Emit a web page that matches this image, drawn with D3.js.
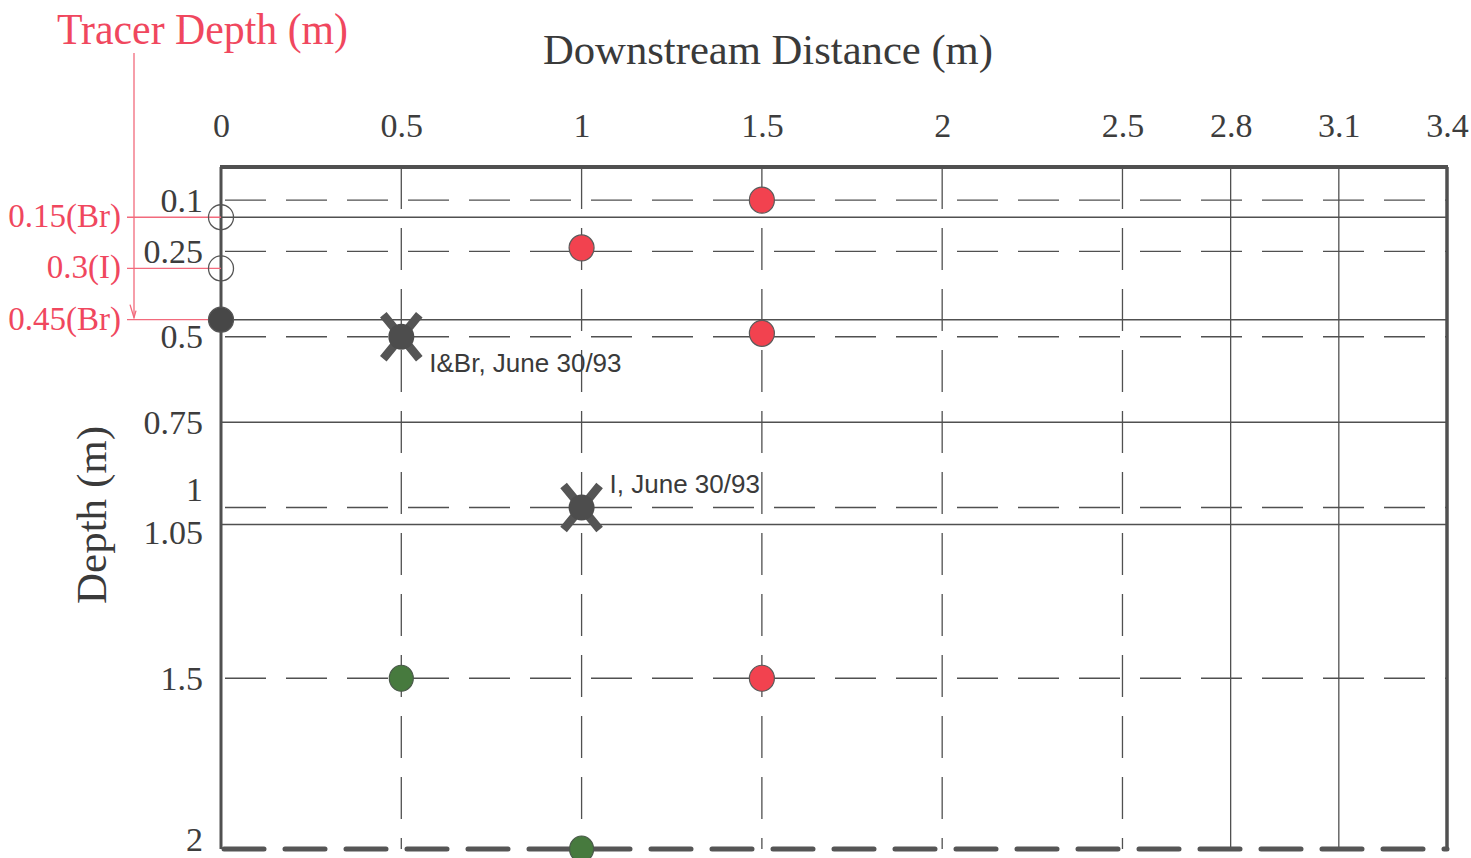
<!DOCTYPE html>
<html>
<head>
<meta charset="utf-8">
<script src="https://cdn.jsdelivr.net/npm/d3@7"></script>
<style>
  html, body { margin: 0; padding: 0; background: #fff; }
  svg { display: block; }
</style>
</head>
<body>
<svg id="chart" width="1471" height="858"></svg>
<script>
// Downstream distance ticks (m)
const xTicks = [0, 0.5, 1, 1.5, 2, 2.5, 2.8, 3.1, 3.4];
const xDashed = [0.5, 1, 1.5, 2, 2.5];
const xSolid = [2.8, 3.1];

// Depth ticks (m)
const yTicks = [0.1, 0.25, 0.5, 0.75, 1, 1.05, 1.5, 2];
const yDashed = [0.1, 0.25, 0.5, 1, 1.5];
const ySolid = [0.15, 0.45, 0.75, 1.05];

// Tracer injection depths at the origin
const tracerDepths = [0.15, 0.3, 0.45];
const tracerLabels = ["0.15(Br)", "0.3(I)", "0.45(Br)"];
const tracerFilled = [false, false, true];

// Sampling points [distance, depth]
const redPoints = [[1.5, 0.1], [1, 0.24], [1.5, 0.49], [1.5, 1.5]];
const greenPoints = [[0.5, 1.5], [1, 2]];
const crossPoints = [[0.5, 0.5], [1, 1]];
const crossLabels = ["I&Br, June 30/93", "I, June 30/93"];

const svg = d3.select("#chart");
const x = d3.scaleLinear().domain([0, 3.4]).range([221, 1447]);
const y = d3.scaleLinear().domain([0, 2]).range([166, 849]);

const ink = "#505050";
const redText = "#f0475e";
const redLine = "#f26a7c";
const serif = "'Liberation Serif', 'Times New Roman', serif";
const sans = "'Liberation Sans', Arial, sans-serif";

const [x0, x1] = x.range();
const yTop = 167, yBot = y(2);

// grid
const grid = svg.append("g");
grid.selectAll(".vdash").data(xDashed).join("line")
  .attr("x1", d => x(d)).attr("x2", d => x(d))
  .attr("y1", yTop).attr("y2", yBot)
  .attr("stroke", ink).attr("stroke-width", 1.3)
  .attr("stroke-dasharray", "42 19");
grid.selectAll(".vsolid").data(xSolid).join("line")
  .attr("x1", d => x(d)).attr("x2", d => x(d))
  .attr("y1", yTop).attr("y2", yBot)
  .attr("stroke", ink).attr("stroke-width", 1.3);
grid.selectAll(".hdash").data(yDashed).join("line")
  .attr("x1", x0).attr("x2", x1)
  .attr("y1", d => y(d)).attr("y2", d => y(d))
  .attr("stroke", ink).attr("stroke-width", 1.3)
  .attr("stroke-dasharray", "41 20").attr("stroke-dashoffset", -4);
grid.selectAll(".hsolid").data(ySolid).join("line")
  .attr("x1", x0).attr("x2", x1)
  .attr("y1", d => y(d)).attr("y2", d => y(d))
  .attr("stroke", ink).attr("stroke-width", 1.5);

// frame: solid top, left, right; heavy dashed bottom
svg.append("line").attr("x1", x0 - 1).attr("x2", x1 + 1).attr("y1", yTop).attr("y2", yTop)
  .attr("stroke", ink).attr("stroke-width", 4);
svg.append("line").attr("x1", x0).attr("x2", x0).attr("y1", yTop).attr("y2", yBot)
  .attr("stroke", ink).attr("stroke-width", 3);
svg.append("line").attr("x1", x1).attr("x2", x1).attr("y1", yTop).attr("y2", yBot)
  .attr("stroke", ink).attr("stroke-width", 3.5);
svg.append("line").attr("x1", x0 + 3).attr("x2", x1).attr("y1", yBot).attr("y2", yBot)
  .attr("stroke", "#555").attr("stroke-width", 5)
  .attr("stroke-linecap", "round").attr("stroke-dasharray", "40 21");

// x tick labels
const xAxis = svg.append("g").attr("transform", `translate(0,${yTop})`)
  .call(d3.axisTop(x).tickValues(xTicks).tickSize(0).tickPadding(30).tickFormat(d3.format("")));
xAxis.select(".domain").remove();
xAxis.selectAll("text")
  .attr("font-family", serif).attr("font-size", 34).attr("fill", "#3d3d3d");

// y tick labels (1 and 1.05 are pushed apart, 2 kept inside the page)
const yAxis = svg.append("g").attr("transform", `translate(${x0},0)`)
  .call(d3.axisLeft(y).tickValues(yTicks).tickSize(0).tickPadding(18).tickFormat(d3.format("")));
yAxis.select(".domain").remove();
yAxis.selectAll("text")
  .attr("font-family", serif).attr("font-size", 34).attr("fill", "#3d3d3d")
  .attr("dy", d => d === 1 ? "-0.2em" : d === 1.05 ? "0.55em" : d === 2 ? "0.05em" : "0.32em");

// titles
svg.append("text").text("Downstream Distance (m)")
  .attr("x", 543).attr("y", 64)
  .attr("textLength", 450).attr("lengthAdjust", "spacingAndGlyphs")
  .attr("font-family", serif).attr("font-size", 42).attr("fill", "#3a3a3a");

svg.append("text").text("Depth (m)")
  .attr("transform", "translate(106,515) rotate(-90)")
  .attr("text-anchor", "middle")
  .attr("textLength", 178).attr("lengthAdjust", "spacingAndGlyphs")
  .attr("font-family", serif).attr("font-size", 42).attr("fill", "#3a3a3a");

svg.append("text").text("Tracer Depth (m)")
  .attr("x", 57).attr("y", 44)
  .attr("textLength", 291).attr("lengthAdjust", "spacingAndGlyphs")
  .attr("font-family", serif).attr("font-size", 44).attr("fill", redText);

// tracer depth leader: vertical line with arrow and horizontal ticks to the axis
const leadX = 134;
svg.append("line").attr("x1", leadX).attr("x2", leadX)
  .attr("y1", 53).attr("y2", y(0.45) - 2)
  .attr("stroke", redLine).attr("stroke-width", 1.3);
svg.append("path")
  .attr("d", `M${leadX - 4},${y(0.45) - 15} L${leadX},${y(0.45) - 2} L${leadX + 2},${y(0.45) - 9}`)
  .attr("fill", "none").attr("stroke", redLine).attr("stroke-width", 1.3);
svg.selectAll(".tracerLine").data(tracerDepths).join("line")
  .attr("x1", 127).attr("x2", x0)
  .attr("y1", d => y(d)).attr("y2", d => y(d))
  .attr("stroke", redLine).attr("stroke-width", 1.3);
svg.selectAll(".tracerLabel").data(tracerDepths).join("text")
  .text((d, i) => tracerLabels[i])
  .attr("x", 121).attr("y", d => y(d)).attr("dy", "0.3em")
  .attr("text-anchor", "end")
  .attr("font-family", serif).attr("font-size", 33).attr("fill", redText);

// tracer injection points on the axis
svg.selectAll(".tracerPt").data(tracerDepths).join("circle")
  .attr("cx", x(0)).attr("cy", d => y(d)).attr("r", 12.5)
  .attr("fill", (d, i) => tracerFilled[i] ? "#474747" : "none")
  .attr("stroke", "#555").attr("stroke-width", 1.3);

// sampling points
svg.selectAll(".redPt").data(redPoints).join("ellipse")
  .attr("cx", d => x(d[0])).attr("cy", d => y(d[1]))
  .attr("rx", 12.5).attr("ry", 13)
  .attr("fill", "#f2424f").attr("stroke", "#5a5a5a").attr("stroke-width", 1.2);
svg.selectAll(".greenPt").data(greenPoints).join("ellipse")
  .attr("cx", d => x(d[0])).attr("cy", d => y(d[1]))
  .attr("rx", 12).attr("ry", 13)
  .attr("fill", "#477a3e").attr("stroke", "#4a5a4a").attr("stroke-width", 1.2);

// detection points: bold X with dot
const cross = svg.selectAll(".cross").data(crossPoints).join("g")
  .attr("transform", d => `translate(${x(d[0])},${y(d[1])})`);
cross.append("path")
  .attr("d", "M-18,-22 L18,22 M18,-22 L-18,22")
  .attr("stroke", "#555").attr("stroke-width", 8.5).attr("fill", "none");
cross.append("circle").attr("r", 13).attr("fill", "#4d4d4d");
cross.append("text")
  .text((d, i) => crossLabels[i])
  .attr("x", 28).attr("y", (d, i) => i === 0 ? 35 : -15)
  .attr("font-family", sans).attr("font-size", 26).attr("fill", "#3a3a3a");
</script>
</body>
</html>
